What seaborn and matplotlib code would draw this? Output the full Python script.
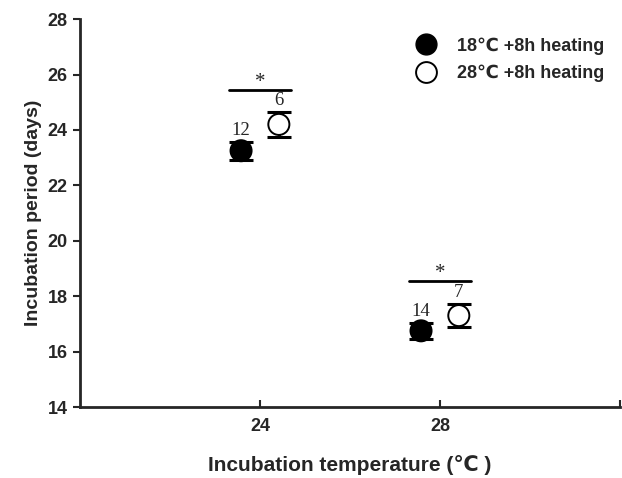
import matplotlib
matplotlib.use("Agg")
import matplotlib.pyplot as plt
import seaborn as sns
import pandas as pd
from matplotlib.lines import Line2D

temps = [24, 28]
groups = ["18℃ +8h heating", "28℃ +8h heating"]
mean_18 = [23.25, 16.75]
err_18 = [0.32, 0.28]
n_18 = [12, 14]
mean_28 = [24.2, 17.3]
err_28 = [0.45, 0.42]
n_28 = [6, 7]
sig_y = [25.45, 18.55]
sig_labels = ["*", "*"]
yticks = [14, 16, 18, 20, 22, 24, 26, 28]

offset = 0.42
rows = []
for i, t in enumerate(temps):
    rows.append(dict(x=t - offset, y=mean_18[i], e=err_18[i], n=n_18[i], g=groups[0]))
    rows.append(dict(x=t + offset, y=mean_28[i], e=err_28[i], n=n_28[i], g=groups[1]))
df = pd.DataFrame(rows)

sns.set_style("ticks")
plt.rcParams['font.family'] = ['Liberation Sans', 'DejaVu Sans']

fig = plt.figure(figsize=(6.22, 4.78), dpi=100)
ax = fig.add_axes([0.1286, 0.1485, 0.868, 0.8115])

for g in groups:
    sub = df[df.g == g]
    ax.errorbar(sub.x, sub.y, yerr=sub.e, fmt='none', ecolor='black',
                elinewidth=2, capsize=8.5, capthick=2.2, zorder=2)
sns.scatterplot(data=df, x="x", y="y", hue="g", palette={groups[0]: "black", groups[1]: "white"},
                edgecolor="black", linewidth=1.4, s=230, ax=ax, legend=False, zorder=3)

serif = ['Liberation Serif', 'DejaVu Serif']
for _, r in df.iterrows():
    ax.text(r.x, r.y + r.e + 0.12, str(int(r.n)), ha='center', va='bottom',
            fontsize=13.5, family=serif)
for i, t in enumerate(temps):
    ax.plot([t - 0.68, t + 0.68], [sig_y[i], sig_y[i]], color='black', lw=2)
    ax.text(t, sig_y[i] - 0.08, sig_labels[i], ha='center', va='bottom', fontsize=15, family=serif)

ax.set_xlim(20, 32)
ax.set_ylim(14, 28)
ax.set_xticks(temps)
ax.set_xticklabels([str(t) for t in temps], fontsize=13, fontweight='bold')
ax.set_xticks([32], minor=True)
ax.set_yticks(yticks)
ax.set_yticklabels([str(t) for t in yticks], fontsize=13, fontweight='bold')
ax.tick_params(axis='x', which='both', direction='in', length=5, width=1.5, pad=8)
ax.tick_params(axis='y', direction='out', length=5, width=1.5, pad=4)
for s in ['left', 'bottom']:
    ax.spines[s].set_linewidth(2)
sns.despine(ax=ax)

ax.set_xlabel("Incubation temperature (℃ )", fontsize=15, fontweight='bold', labelpad=14)
ax.set_ylabel("Incubation period (days)", fontsize=14, fontweight='bold', labelpad=4)

handles = [Line2D([], [], marker='o', ls='none', markerfacecolor='black', markeredgecolor='black', markersize=15),
           Line2D([], [], marker='o', ls='none', markerfacecolor='white', markeredgecolor='black', markersize=15, markeredgewidth=1.4)]
ax.legend(handles, groups, loc='upper left', bbox_to_anchor=(0.577, 0.995), frameon=False,
          prop={'weight': 'bold', 'size': 13}, handletextpad=0.75, labelspacing=0.55)

fig.savefig("out.png", dpi=100)
